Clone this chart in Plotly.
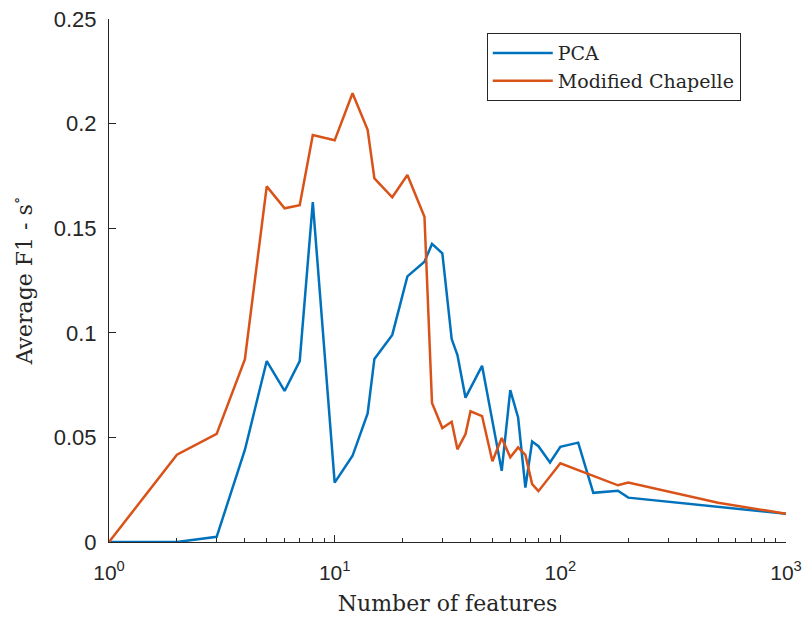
import plotly.graph_objects as go

# Data
pca_x = [1, 2, 3, 4, 5, 6, 7, 8, 10, 12, 14, 15, 18, 21, 25, 27, 30, 33, 35, 38,
         45, 55, 60, 65, 70, 75, 80, 90, 100, 120, 140, 180, 200, 1000]
pca_y = [0, 0, 0.0025, 0.044, 0.0865, 0.0722, 0.0865, 0.1625, 0.0284, 0.0412,
         0.0615, 0.0875, 0.099, 0.127, 0.134, 0.1425, 0.138, 0.097, 0.0894, 0.069,
         0.0842, 0.034, 0.0726, 0.0595, 0.026, 0.048, 0.0458, 0.038, 0.0455,
         0.0475, 0.0235, 0.0245, 0.0212, 0.0135]

chap_x = [1, 2, 3, 4, 5, 6, 7, 8, 10, 12, 14, 15, 18, 21, 25, 27, 30, 33, 35, 38,
          40, 45, 50, 55, 60, 65, 70, 75, 80, 100, 180, 200, 500, 1000]
chap_y = [0, 0.0417, 0.0517, 0.0873, 0.170, 0.1595, 0.161, 0.1945, 0.192, 0.2145,
          0.197, 0.1738, 0.1648, 0.1754, 0.1555, 0.0665, 0.0545, 0.0575, 0.0443,
          0.0516, 0.0625, 0.0602, 0.0386, 0.0497, 0.0405, 0.0452, 0.0416, 0.0277,
          0.0243, 0.0376, 0.0271, 0.0284, 0.0188, 0.0135]

x_tickvals = [1, 10, 100, 1000]
x_ticktext = ["10<sup>0</sup>", "10<sup>1</sup>", "10<sup>2</sup>", "10<sup>3</sup>"]
x_minor = [m * 10 ** d for d in range(3) for m in range(2, 10)]
y_tickvals = [0, 0.05, 0.1, 0.15, 0.2, 0.25]
y_ticktext = ["0", "0.05", "0.1", "0.15", "0.2", "0.25"]

BLUE = "#0072BD"
ORANGE = "#D95319"
AXIS = "#262626"
SERIF = "DejaVu Serif, Liberation Serif, serif"
SANS = "Liberation Sans, Arial, sans-serif"

fig = go.Figure()
fig.add_trace(go.Scatter(x=pca_x, y=pca_y, mode="lines", name="PCA",
                         line=dict(color=BLUE, width=2.5)))
fig.add_trace(go.Scatter(x=chap_x, y=chap_y, mode="lines", name="Modified Chapelle",
                         line=dict(color=ORANGE, width=2.5)))

fig.update_layout(
    width=807, height=620,
    margin=dict(l=109, r=21, t=19, b=78, autoexpand=False),
    plot_bgcolor="white", paper_bgcolor="white",
    showlegend=True,
    legend=dict(x=0.558, y=0.973, xanchor="left", yanchor="top",
                bgcolor="white", bordercolor=AXIS, borderwidth=1,
                font=dict(family=SERIF, size=19, color=AXIS),
                itemwidth=60, tracegroupgap=0),
    xaxis=dict(
        type="log", range=[0, 3], automargin=False,
        tickvals=x_tickvals, ticktext=x_ticktext,
        ticks="inside", ticklen=7, tickcolor=AXIS, tickwidth=1,
        ticklabelstandoff=12,
        minor=dict(tickvals=x_minor, ticks="inside", ticklen=4, tickcolor=AXIS),
        showline=True, linecolor=AXIS, linewidth=1, mirror=False,
        showgrid=False, zeroline=False,
        tickfont=dict(family=SANS, size=21, color=AXIS),
        title=dict(text="Number of features", standoff=12,
                   font=dict(family=SERIF, size=22, color=AXIS)),
    ),
    yaxis=dict(
        range=[0, 0.25], automargin=False,
        tickvals=y_tickvals, ticktext=y_ticktext,
        ticks="inside", ticklen=7, tickcolor=AXIS, tickwidth=1,
        ticklabelstandoff=7,
        showline=True, linecolor=AXIS, linewidth=1, mirror=False,
        showgrid=False, zeroline=False,
        tickfont=dict(family=SANS, size=22, color=AXIS),
        title=dict(text="Average F1 - s<sup>∘</sup>", standoff=15,
                   font=dict(family=SERIF, size=22, color=AXIS)),
    ),
)

fig.write_html("out.html")
